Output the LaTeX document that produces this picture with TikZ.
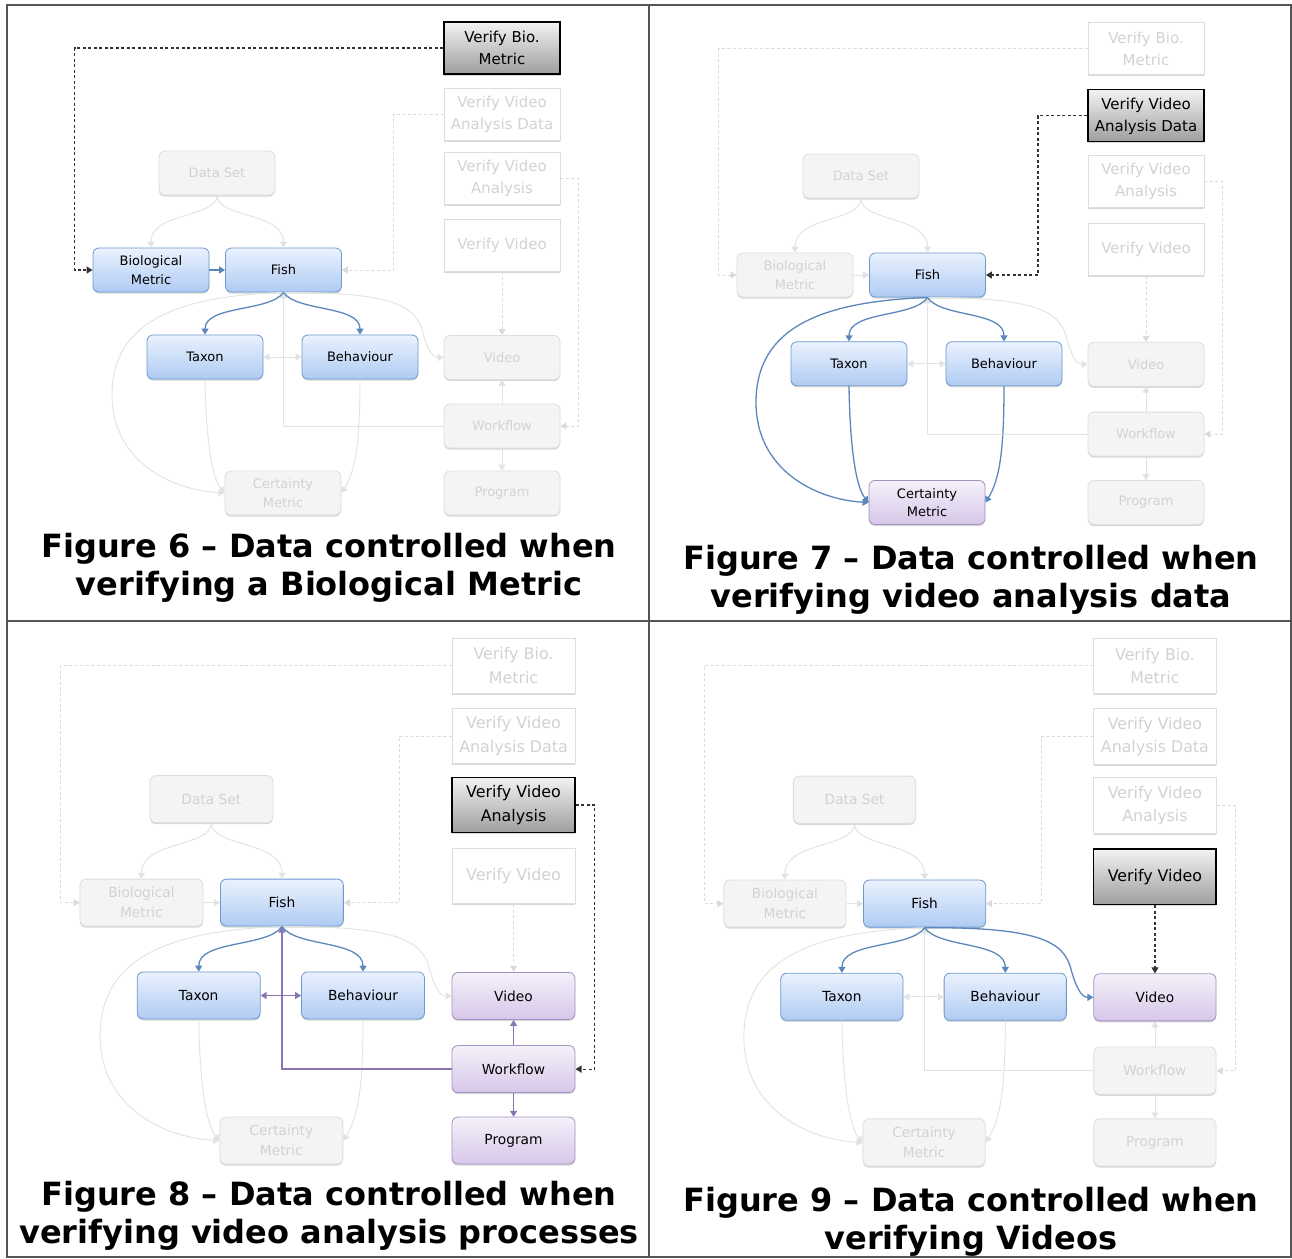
\documentclass[tikz,border=0pt]{standalone}
\usepackage{fontspec}
\setmainfont{DejaVu Sans}
\usetikzlibrary{arrows.meta,shadows,calc}
\definecolor{fdraw}{HTML}{DEDEDE}
\definecolor{ffill}{HTML}{F4F4F4}
\definecolor{ftext}{HTML}{D2D2D2}
\definecolor{fl}{HTML}{E2E2E2}
\definecolor{fdl}{HTML}{DADADA}
\definecolor{bdraw}{HTML}{6E99CF}
\definecolor{btop}{HTML}{EAF2FD}
\definecolor{bbot}{HTML}{AFCBF3}
\definecolor{pdraw}{HTML}{A590C4}
\definecolor{ptop}{HTML}{F5F1FA}
\definecolor{pbot}{HTML}{D6C7E8}
\definecolor{bl}{HTML}{5B87BD}
\definecolor{pl}{HTML}{8C74B3}
\definecolor{gridc}{HTML}{555555}
\definecolor{dk}{HTML}{333333}
\newcommand\nfont{\fontsize{13}{18.5}\selectfont}
\newcommand\vfont{\fontsize{15}{22}\selectfont}
\newcommand\capfont{\bfseries\fontsize{32}{37.5}\selectfont}
\tikzset{
  base/.style={minimum width=116pt, minimum height=44pt, inner sep=1pt, align=center, font=\nfont, line width=0.8pt},
  rbox/.style={base, rounded corners=6pt},
  vbox/.style={base, minimum height=52pt, font=\vfont},
  fsh/.style={drop shadow={shadow xshift=0pt, shadow yshift=-1.6pt, fill=black!30, opacity=0.5}},
  fadeR/.style={rbox, draw=fdraw, fill=ffill, text=ftext, fsh},
  fadeV/.style={vbox, draw=fdraw, fill=white, text=ftext, fsh},
  blueN/.style={rbox, draw=bdraw, top color=btop, bottom color=bbot, text=black, fsh},
  purpN/.style={rbox, draw=pdraw, top color=ptop, bottom color=pbot, text=black, fsh},
  darkN/.style={vbox, draw=black, line width=1.2pt, top color=black!5, bottom color=black!38, text=black, fsh},
  fadedE/.style={draw=fl, line width=0.9pt},
  blueE/.style={draw=bl, line width=1.3pt},
  purpE/.style={draw=pl, line width=1.6pt},
  fadedD/.style={draw=fdl, line width=0.9pt},
  blackD/.style={draw=dk, line width=1.2pt},
  arr/.style={-{Triangle[width=7pt,length=6pt]}},
  arr2/.style={{Triangle[width=7pt,length=6pt]}-{Triangle[width=7pt,length=6pt]}},
  dsh/.style={dash pattern=on 3pt off 2.5pt},
  st-vb/.style={fadeV}, st-vvad/.style={fadeV}, st-vva/.style={fadeV}, st-vv/.style={fadeV},
  st-ds/.style={fadeR}, st-bio/.style={fadeR}, st-fish/.style={fadeR}, st-tax/.style={fadeR},
  st-beh/.style={fadeR}, st-video/.style={fadeR}, st-work/.style={fadeR}, st-cert/.style={fadeR},
  st-prog/.style={fadeR},
  e-dsbio/.style={fadedE}, e-dsfish/.style={fadedE}, e-biofish/.style={fadedE},
  e-fishtax/.style={fadedE}, e-fishbeh/.style={fadedE}, e-fishcert/.style={fadedE},
  e-fishvid/.style={fadedE}, e-taxbeh/.style={fadedE}, e-taxcert/.style={fadedE},
  e-behcert/.style={fadedE}, e-workfish/.style={fadedE}, e-workvid/.style={fadedE},
  e-workprog/.style={fadedE},
  e-vbbio/.style={fadedD}, e-vvadfish/.style={fadedD}, e-vvawork/.style={fadedD}, e-vvvid/.style={fadedD},
  capt/.style={align=center, font=\capfont, inner sep=0pt},
  grid/.style={draw=gridc, line width=1.3pt}
}
\newcommand\drawpanel{%
  \node[st-vb] (vb) at (502,48) {Verify Bio.\\Metric};
  \node[st-vvad] (vvad) at (502,114) {Verify Video\\Analysis Data};
  \node[st-vva] (vva) at (502,178.5) {Verify Video\\Analysis};
  \node[st-vv] (vv) at (502,245) {Verify Video};
  \node[st-ds] (ds) at (217,173) {Data Set};
  \node[st-bio] (bio) at (151,270) {Biological\\Metric};
  \node[st-fish] (fish) at (283.5,270) {Fish};
  \node[st-tax] (tax) at (205,357) {Taxon};
  \node[st-beh] (beh) at (360,357) {Behaviour};
  \node[st-video] (video) at (502,357.5) {Video};
  \node[st-work] (work) at (502,426) {Workflow};
  \node[st-cert] (cert) at (283,493) {Certainty\\Metric};
  \node[st-prog] (prog) at (502,493) {Program};
  \draw[arr, e-dsbio] (ds.south) .. controls (217,218) and (151,212) .. (bio.north);
  \draw[arr, e-dsfish] (ds.south) .. controls (217,218) and (283.5,212) .. (fish.north);
  \draw[arr, e-biofish] (bio.east) -- (fish.west);
  \draw[arr, e-fishcert] (fish.south) .. controls (180,296) and (112,320) .. (112,395) .. controls (112,460) and (170,490) .. (cert.west);
  \draw[arr, e-fishvid] (fish.south) .. controls (390,292) and (415,305) .. (422,330) .. controls (427,348) and (432,357.5) .. (video.west);
  \draw[arr, e-taxcert] (tax.south) .. controls (206,440) and (212,478) .. (cert.west);
  \draw[arr, e-behcert] (beh.south) .. controls (360,440) and (356,470) .. (cert.east);
  \draw[arr, e-workfish] (work.west) -| (fish.south);
  \draw[arr2, e-taxbeh] (tax.east) -- (beh.west);
  \draw[arr, e-workvid] (work.north) -- (video.south);
  \draw[arr, e-workprog] (work.south) -- (prog.north);
  \draw[arr, e-fishtax] (fish.south) .. controls (270,312) and (205,305) .. (tax.north);
  \draw[arr, e-fishbeh] (fish.south) .. controls (297,312) and (360,305) .. (beh.north);
  \draw[arr, dsh, e-vbbio] (vb.west) -| ($(bio.west)+(-18,0)$) -- (bio.west);
  \draw[arr, dsh, e-vvadfish] (vvad.west) -| ($(fish.east)+(52,0)$) -- (fish.east);
  \draw[arr, dsh, e-vvawork] (vva.east) -| ($(work.east)+(18,0)$) -- (work.east);
  \draw[arr, dsh, e-vvvid] (vv.south) -- (video.north);
}
\begin{document}
\begin{tikzpicture}[x=1pt, y=-1pt]
  \useasboundingbox (0,0) rectangle (1292,1258);
  \fill[white] (0,0) rectangle (1292,1258);
  \begin{scope}[name prefix=a-,
      st-vb/.style={darkN}, st-bio/.style={blueN}, st-fish/.style={blueN},
      st-tax/.style={blueN}, st-beh/.style={blueN},
      e-vbbio/.style={blackD}, e-biofish/.style={blueE},
      e-fishtax/.style={blueE}, e-fishbeh/.style={blueE}]
    \drawpanel
  \end{scope}
  \begin{scope}[name prefix=b-, shift={(644,-0.4)}, yscale=1.02,
      st-vvad/.style={darkN}, st-fish/.style={blueN}, st-tax/.style={blueN},
      st-beh/.style={blueN}, st-cert/.style={purpN},
      e-vvadfish/.style={blackD}, e-fishtax/.style={blueE}, e-fishbeh/.style={blueE},
      e-fishcert/.style={blueE}, e-taxcert/.style={blueE}, e-behcert/.style={blueE}]
    \drawpanel
  \end{scope}
  \begin{scope}[name prefix=c-, shift={(-18.6,614.5)}, xscale=1.06, yscale=1.067, transform shape,
      st-vva/.style={darkN}, st-fish/.style={blueN}, st-tax/.style={blueN},
      st-beh/.style={blueN}, st-video/.style={purpN}, st-work/.style={purpN},
      st-prog/.style={purpN},
      e-vvawork/.style={blackD}, e-fishtax/.style={blueE}, e-fishbeh/.style={blueE},
      e-workfish/.style={purpE}, e-taxbeh/.style={purpE}, e-workvid/.style={purpE},
      e-workprog/.style={purpE}]
    \drawpanel
  \end{scope}
  \begin{scope}[name prefix=d-, shift={(625.8,614.4)}, xscale=1.054, yscale=1.071, transform shape,
      st-vv/.style={darkN}, st-fish/.style={blueN}, st-tax/.style={blueN},
      st-beh/.style={blueN}, st-video/.style={purpN},
      e-vvvid/.style={blackD}, e-fishtax/.style={blueE}, e-fishbeh/.style={blueE},
      e-fishvid/.style={blueE}]
    \drawpanel
  \end{scope}
  \node[capt] (cap6) at (329,568) {Figure 6 – Data controlled when\\verifying a Biological Metric};
  \node[capt] (cap7) at (971,580) {Figure 7 – Data controlled when\\verifying video analysis data};
  \node[capt] (cap8) at (329,1216) {Figure 8 – Data controlled when\\verifying video analysis processes};
  \node[capt] (cap9) at (971,1222) {Figure 9 – Data controlled when\\verifying Videos};
  \draw[grid] (7,5) rectangle (1291,1257);
  \draw[grid] (649,5) -- (649,1257);
  \draw[grid] (7,621) -- (1291,621);
\end{tikzpicture}
\end{document}
